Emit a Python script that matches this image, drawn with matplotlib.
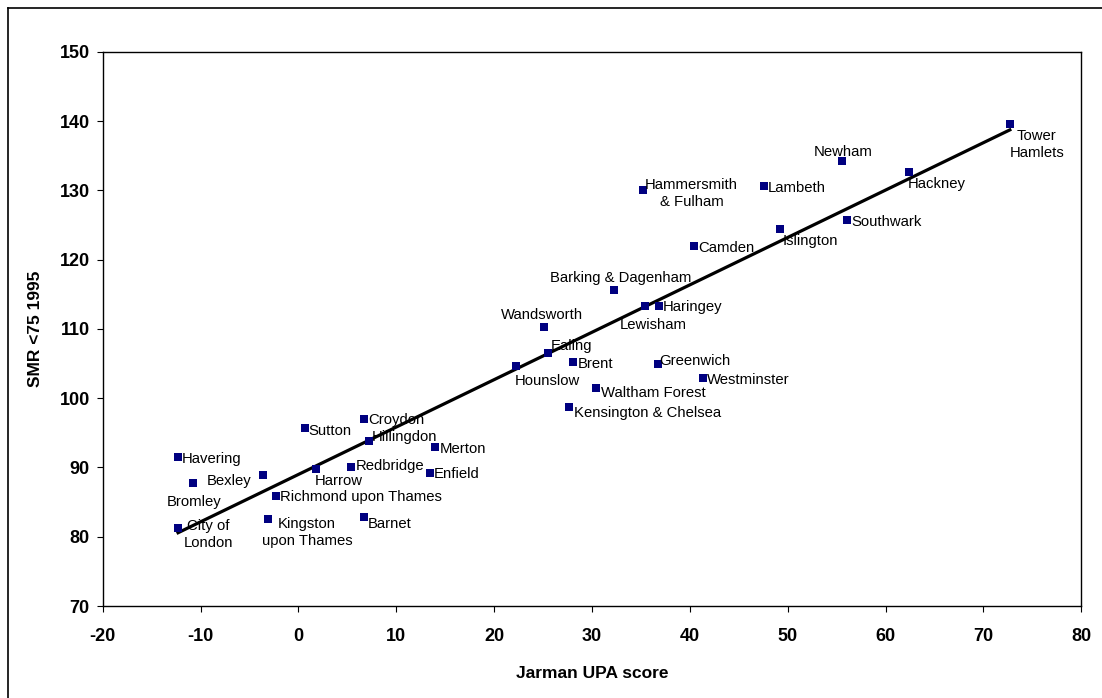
import numpy as np
import matplotlib
matplotlib.use("Agg")
import matplotlib.pyplot as plt
from matplotlib.lines import Line2D

# London boroughs: Jarman under-privileged area score vs SMR (<75), 1995
boroughs = [
    "Tower\nHamlets", "Newham", "Hackney", "Hammersmith\n& Fulham", "Lambeth",
    "Southwark", "Islington", "Camden", "Barking & Dagenham", "Lewisham",
    "Haringey", "Wandsworth", "Ealing", "Hounslow", "Brent", "Greenwich",
    "Westminster", "Waltham Forest", "Kensington & Chelsea", "Croydon",
    "Sutton", "Hillingdon", "Merton", "Havering", "Harrow", "Redbridge",
    "Enfield", "Bexley", "Bromley", "Richmond upon Thames",
    "Kingston\nupon Thames", "Barnet", "City of\nLondon",
]
jarman = [
    72.7, 55.5, 62.4, 35.2, 47.6,
    56.1, 49.2, 40.4, 32.2, 35.4,
    36.8, 25.1, 25.5, 22.2, 28.1, 36.7,
    41.3, 30.4, 27.7, 6.7,
    0.7, 7.2, 14.0, -12.3, 1.8, 5.4,
    13.4, -10.8, -3.6, -2.3,
    -3.1, 6.7, -12.3,
]
smr = [
    139.5, 134.2, 132.6, 130.0, 130.6,
    125.7, 124.4, 121.9, 115.6, 113.3,
    113.3, 110.2, 106.5, 104.6, 105.2, 104.9,
    102.9, 101.5, 98.7, 97.0,
    95.7, 93.8, 92.9, 91.5, 89.8, 90.0,
    89.2, 87.7, 88.9, 85.9,
    82.5, 82.9, 81.3,
]

x_ticks = list(range(-20, 81, 10))
y_ticks = list(range(70, 151, 10))

# label placement in screen pixels: (dx, dy down, horizontal alignment)
label_offsets = {
    "Tower\nHamlets": (27, 20, "center"),
    "Newham": (1.5, -9.6, "center"),
    "Hackney": (-1, 11.7, "left"),
    "Hammersmith\n& Fulham": (48.7, 3.3, "center"),
    "Islington": (2.4, 11.7, "left"),
    "Barking & Dagenham": (7.5, -12, "center"),
    "Lewisham": (8, 19, "center"),
    "Wandsworth": (-2.3, -12.3, "center"),
    "Ealing": (2.7, -7.6, "left"),
    "Hounslow": (-1.3, 15, "left"),
    "Greenwich": (2, -3.3, "left"),
    "Waltham Forest": (5.4, 5.3, "left"),
    "Kensington & Chelsea": (4.7, 6, "left"),
    "Sutton": (3.3, 2.7, "left"),
    "Hillingdon": (2.4, -3.7, "left"),
    "Harrow": (-1, 11.7, "left"),
    "Redbridge": (4, -1.7, "left"),
    "Barnet": (3.3, 7, "left"),
    "Bexley": (14, -2, "left"),
    "Bromley": (-96.6, 27, "left"),
    "Kingston\nupon Thames": (39, 13, "center"),
    "City of\nLondon": (30.3, 6.7, "center"),
}

plt.rcParams["font.family"] = ["Liberation Sans", "DejaVu Sans"]

fig = plt.figure(figsize=(11.02, 6.98), dpi=100)
ax = fig.add_axes([0.0932, 0.1318, 0.8880, 0.7941])

ax.scatter(jarman, smr, marker="s", s=38, color="#000080", zorder=3, linewidths=0)

# least squares trend line over the range of the data
slope, intercept = np.polyfit(jarman, smr, 1)
xs = np.array([min(jarman), max(jarman)])
ax.plot(xs, slope * xs + intercept, color="black", lw=2.3, zorder=2)

for name, x, y in zip(boroughs, jarman, smr):
    dx, dy, ha = label_offsets.get(name, (4, 1.5, "left"))
    ax.annotate(name, (x, y), xytext=(dx, -dy), textcoords="offset pixels",
                ha=ha, va="center", multialignment="center", fontsize=10.7,
                linespacing=1.3, color="black", zorder=4)

ax.set_xlim(-20, 80)
ax.set_ylim(70, 150)
ax.set_xticks(x_ticks)
ax.set_yticks(y_ticks)
ax.set_xticklabels([str(t) for t in x_ticks], fontsize=13, fontweight="bold")
ax.set_yticklabels([str(t) for t in y_ticks], fontsize=13, fontweight="bold")
ax.tick_params(axis="x", direction="out", length=4.3, width=0.8, pad=11.5)
ax.tick_params(axis="y", direction="out", length=4.3, width=0.8, pad=5)
for spine in ax.spines.values():
    spine.set_linewidth(1.0)
    spine.set_color("black")

ax.set_xlabel("Jarman UPA score", fontsize=12.5, fontweight="bold", va="center")
ax.xaxis.set_label_coords(0.5, -0.121)
ax.set_ylabel("SMR <75 1995", fontsize=12.5, fontweight="bold", va="center")
ax.yaxis.set_label_coords(-0.0685, 0.5)

# chart area frame, only its top and left edges fall inside the image
fig.add_artist(Line2D([8 / 1102, 8 / 1102], [0, 1 - 8 / 698],
                      transform=fig.transFigure, color="black", lw=1.2))
fig.add_artist(Line2D([8 / 1102, 1], [1 - 8 / 698, 1 - 8 / 698],
                      transform=fig.transFigure, color="black", lw=1.2))

fig.savefig("out.png", dpi=100)
